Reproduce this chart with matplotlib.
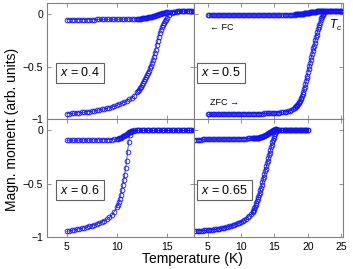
import matplotlib
matplotlib.use('Agg')
import matplotlib.pyplot as plt

plt.rcParams['font.family'] = ['Liberation Sans', 'DejaVu Sans']
plt.rcParams['mathtext.fontset'] = 'custom'
plt.rcParams['mathtext.rm'] = 'Liberation Sans'
plt.rcParams['mathtext.it'] = 'Liberation Sans:italic'

# x = 0.4 (top left)
T04 = [5.0, 5.25, 5.5, 5.75, 6.0, 6.25, 6.5, 6.75, 7.0, 7.25, 7.5, 7.75, 8.0, 8.25,
       8.5, 8.75, 9.0, 9.25, 9.5, 9.75, 10.0, 10.25, 10.5, 10.75, 11.0, 11.25, 11.5, 11.75,
       12.0, 12.1, 12.2, 12.3, 12.4, 12.5, 12.6, 12.7, 12.8, 12.9, 13.0, 13.1, 13.2, 13.3,
       13.4, 13.5, 13.6, 13.7, 13.8, 13.9, 14.0, 14.1, 14.2, 14.3, 14.4, 14.5, 14.6, 14.7,
       14.8, 14.9, 15.0,
       15.25, 15.5, 15.75, 16.0, 16.25, 16.5, 16.75, 17.0, 17.25, 17.5, 17.75]
zfc04 = [-0.947, -0.945, -0.944, -0.942, -0.940, -0.938, -0.935, -0.933, -0.930, -0.927,
         -0.923, -0.920, -0.916, -0.912, -0.907, -0.902, -0.896, -0.890, -0.883, -0.876,
         -0.868, -0.859, -0.849, -0.838, -0.825, -0.811, -0.795, -0.775,
         -0.745, -0.733, -0.720, -0.705, -0.690, -0.673, -0.656, -0.638, -0.620, -0.600,
         -0.580, -0.560, -0.540, -0.515, -0.490, -0.465, -0.440, -0.410, -0.375, -0.340,
         -0.300, -0.260, -0.220, -0.180, -0.150, -0.125, -0.105, -0.088, -0.070, -0.055,
         -0.040,
         -0.008, 0.010, 0.018, 0.022, 0.024, 0.025, 0.026, 0.027, 0.027, 0.028, 0.028]
fc04 = [-0.055, -0.055, -0.055, -0.055, -0.055, -0.055, -0.054, -0.054, -0.054, -0.054,
        -0.054, -0.054, -0.053, -0.053, -0.053, -0.053, -0.053, -0.052, -0.052, -0.052,
        -0.051, -0.051, -0.051, -0.050, -0.050, -0.049, -0.049, -0.048,
        -0.048, -0.047, -0.047, -0.046, -0.045, -0.044, -0.043, -0.042, -0.040, -0.038,
        -0.036, -0.034, -0.032, -0.030, -0.028, -0.026, -0.023, -0.020, -0.017, -0.014,
        -0.011, -0.008, -0.005, -0.002, 0.001, 0.004, 0.007, 0.009, 0.011, 0.013,
        0.015,
        0.018, 0.020, 0.022, 0.023, 0.024, 0.025, 0.026, 0.027, 0.027, 0.028, 0.028]

# x = 0.6 (bottom left)
T06 = [5.0, 5.25, 5.5, 5.75, 6.0, 6.25, 6.5, 6.75, 7.0, 7.25, 7.5, 7.75, 8.0, 8.25,
       8.5, 8.75, 9.0, 9.25, 9.5, 9.75,
       10.0, 10.1, 10.2, 10.3, 10.4, 10.5, 10.6, 10.7, 10.8, 10.9, 11.0, 11.1, 11.2, 11.3,
       11.4, 11.5,
       11.75, 12.0, 12.25, 12.5, 12.75, 13.0, 13.25, 13.5, 13.75, 14.0, 14.25, 14.5, 14.75,
       15.0, 15.25, 15.5, 15.75, 16.0, 16.25, 16.5, 16.75, 17.0, 17.25, 17.5, 17.75]
zfc06 = [-0.945, -0.940, -0.935, -0.930, -0.925, -0.920, -0.915, -0.910, -0.904, -0.898,
         -0.891, -0.884, -0.876, -0.867, -0.857, -0.845, -0.831, -0.815, -0.795, -0.760,
         -0.720, -0.700, -0.675, -0.645, -0.605, -0.560, -0.515, -0.470, -0.420, -0.355,
         -0.290, -0.205, -0.115, -0.050, -0.022, -0.010,
         -0.005, -0.004, -0.003, -0.003, -0.003, -0.003, -0.003, -0.003, -0.003, -0.003,
         -0.003, -0.003, -0.003, -0.003, -0.003, -0.003, -0.003, -0.003, -0.003, -0.003,
         -0.003, -0.003, -0.003, -0.003, -0.003]
fc06 = [-0.095, -0.095, -0.095, -0.095, -0.095, -0.094, -0.094, -0.094, -0.094, -0.094,
        -0.093, -0.093, -0.093, -0.092, -0.092, -0.091, -0.091, -0.090, -0.089, -0.087,
        -0.084, -0.081, -0.078, -0.074, -0.070, -0.065, -0.060, -0.055, -0.049, -0.043,
        -0.037, -0.030, -0.023, -0.016, -0.010, -0.006,
        -0.003, -0.003, -0.003, -0.003, -0.003, -0.003, -0.003, -0.003, -0.003, -0.003,
        -0.003, -0.003, -0.003, -0.003, -0.003, -0.003, -0.003, -0.003, -0.003, -0.003,
        -0.003, -0.003, -0.003, -0.003, -0.003]

# x = 0.5 (top right)
T05 = [5.0, 5.25, 5.5, 5.75, 6.0, 6.25, 6.5, 6.75, 7.0, 7.25, 7.5, 7.75, 8.0, 8.25,
       8.5, 8.75, 9.0, 9.25, 9.5, 9.75, 10.0, 10.25, 10.5, 10.75, 11.0, 11.25, 11.5, 11.75,
       12.0, 12.25, 12.5, 12.75, 13.0, 13.25, 13.5, 13.75, 14.0, 14.25, 14.5, 14.75, 15.0,
       15.25, 15.5, 15.75, 16.0, 16.25, 16.5, 16.75, 17.0, 17.25, 17.5, 17.75,
       18.0, 18.1, 18.2, 18.3, 18.4, 18.5, 18.6, 18.7, 18.8, 18.9,
       19.0, 19.1, 19.2, 19.3, 19.4, 19.5, 19.6, 19.7, 19.8, 19.9,
       20.0, 20.1, 20.2, 20.3, 20.4, 20.5, 20.6, 20.7, 20.8, 20.9,
       21.0, 21.1, 21.2, 21.3, 21.4, 21.5, 21.6, 21.7, 21.8, 21.9,
       22.0, 22.1, 22.2, 22.3, 22.4, 22.5,
       22.75, 23.0, 23.25, 23.5, 23.75, 24.0, 24.25, 24.5, 24.75, 25.0, 25.2]
zfc05 = [-0.953, -0.953, -0.953, -0.953, -0.953, -0.952, -0.952, -0.952, -0.952, -0.952,
         -0.952, -0.951, -0.951, -0.951, -0.951, -0.951, -0.950, -0.950, -0.950, -0.950,
         -0.950, -0.949, -0.949, -0.949, -0.949, -0.948, -0.948, -0.948, -0.947, -0.947,
         -0.946, -0.946, -0.945, -0.945, -0.944, -0.944, -0.944, -0.943, -0.942, -0.941,
         -0.940, -0.939, -0.938, -0.936, -0.934, -0.932, -0.930, -0.927, -0.923, -0.918,
         -0.912, -0.902,
         -0.890, -0.884, -0.878, -0.872, -0.865, -0.857, -0.848, -0.837, -0.825, -0.811,
         -0.795, -0.777, -0.758, -0.738, -0.717, -0.695, -0.668, -0.641, -0.613, -0.585,
         -0.556, -0.527, -0.498, -0.469, -0.440, -0.411, -0.382, -0.355, -0.328, -0.301,
         -0.274, -0.248, -0.222, -0.197, -0.172, -0.148, -0.125, -0.103, -0.082, -0.062,
         -0.044, -0.028, -0.012, 0.002, 0.014, 0.022,
         0.026, 0.028, 0.029, 0.030, 0.030, 0.030, 0.030, 0.030, 0.030, 0.030, 0.030]
fc05 = [-0.012, -0.012, -0.012, -0.012, -0.012, -0.012, -0.012, -0.012, -0.012, -0.012,
        -0.012, -0.012, -0.012, -0.012, -0.012, -0.012, -0.012, -0.012, -0.012, -0.012,
        -0.012, -0.012, -0.012, -0.012, -0.012, -0.012, -0.012, -0.012, -0.012, -0.012,
        -0.012, -0.012, -0.012, -0.012, -0.012, -0.012, -0.012, -0.012, -0.012, -0.012,
        -0.012, -0.011, -0.011, -0.011, -0.010, -0.010, -0.010, -0.009, -0.009, -0.008,
        -0.008, -0.007,
        -0.007, -0.006, -0.006, -0.005, -0.005, -0.004, -0.004, -0.003, -0.002, -0.001,
        0.000, 0.001, 0.002, 0.003, 0.004, 0.005, 0.006, 0.007, 0.008, 0.009,
        0.010, 0.011, 0.012, 0.013, 0.014, 0.015, 0.016, 0.017, 0.018, 0.019,
        0.020, 0.021, 0.022, 0.023, 0.024, 0.025, 0.026, 0.026, 0.027, 0.027,
        0.028, 0.028, 0.029, 0.029, 0.029, 0.029,
        0.030, 0.030, 0.030, 0.030, 0.030, 0.030, 0.030, 0.030, 0.030, 0.030, 0.030]

# x = 0.65 (bottom right)
T065 = [3.0, 3.25, 3.5, 3.75, 4.0, 4.25, 4.5, 4.75, 5.0, 5.25, 5.5, 5.75, 6.0, 6.25,
        6.5, 6.75, 7.0, 7.25, 7.5, 7.75, 8.0, 8.25, 8.5, 8.75, 9.0, 9.25, 9.5, 9.75,
        10.0, 10.25, 10.5, 10.75, 11.0, 11.25, 11.5, 11.75,
        11.8, 11.9, 12.0, 12.1, 12.2, 12.3, 12.4, 12.5, 12.6, 12.7, 12.8, 12.9,
        13.0, 13.1, 13.2, 13.3, 13.4, 13.5, 13.6, 13.7, 13.8, 13.9,
        14.0, 14.1, 14.2, 14.3, 14.4, 14.5, 14.6, 14.7, 14.8, 14.9,
        15.0, 15.1, 15.2, 15.3, 15.4, 15.5,
        15.75, 16.0, 16.25, 16.5, 16.75, 17.0, 17.25, 17.5, 17.75, 18.0, 18.25, 18.5,
        18.75, 19.0, 19.25, 19.5, 19.75, 20.0]
zfc065 = [-0.942, -0.941, -0.940, -0.939, -0.938, -0.937, -0.936, -0.935, -0.933, -0.932,
          -0.930, -0.928, -0.926, -0.924, -0.922, -0.919, -0.916, -0.913, -0.910, -0.906,
          -0.902, -0.898, -0.893, -0.888, -0.883, -0.877, -0.870, -0.863, -0.855, -0.846,
          -0.836, -0.825, -0.812, -0.798, -0.782, -0.764,
          -0.758, -0.745, -0.730, -0.714, -0.698, -0.682, -0.665, -0.647, -0.628, -0.607,
          -0.585, -0.561, -0.536, -0.511, -0.486, -0.461, -0.436, -0.411, -0.386, -0.361,
          -0.336, -0.311, -0.286, -0.261, -0.236, -0.211, -0.186, -0.161, -0.137, -0.114,
          -0.092, -0.072, -0.053, -0.036, -0.020, -0.006, 0.002, 0.000,
          -0.002, -0.003, -0.003, -0.003, -0.003, -0.003, -0.003, -0.003, -0.003, -0.003,
          -0.003, -0.003, -0.003, -0.003, -0.003, -0.003, -0.003, -0.003]
fc065 = [-0.089, -0.089, -0.089, -0.089, -0.089, -0.088, -0.088, -0.088, -0.088, -0.088,
         -0.087, -0.087, -0.087, -0.087, -0.087, -0.086, -0.086, -0.086, -0.086, -0.085,
         -0.085, -0.085, -0.084, -0.084, -0.083, -0.083, -0.082, -0.082, -0.081, -0.080,
         -0.080, -0.079, -0.078, -0.078, -0.077, -0.076,
         -0.075, -0.075, -0.074, -0.074, -0.073, -0.072, -0.072, -0.071, -0.070, -0.070,
         -0.069, -0.068, -0.067, -0.066, -0.063, -0.060, -0.057, -0.054, -0.050, -0.047,
         -0.043, -0.039, -0.035, -0.031, -0.027, -0.023, -0.019, -0.015, -0.011, -0.007,
         -0.003, 0.001, 0.004, 0.006, 0.007, 0.005, 0.002, 0.000,
         -0.002, -0.003, -0.003, -0.003, -0.003, -0.003, -0.003, -0.003, -0.003, -0.003,
         -0.003, -0.003, -0.003, -0.003, -0.003, -0.003, -0.003, -0.003]

labels = ['0.4', '0.5', '0.6', '0.65']
ytick_vals = [-1, -0.5, 0]
ytick_text = ['\u22121', '\u22120.5', '0']

fig = plt.figure(figsize=(3.53, 2.69), dpi=100)
x_left, w_left = 0.1323, 0.4181
x_right, w_right = 0.5504, 0.4212
y_top, h_top = 0.5565, 0.4312
y_bot, h_bot = 0.1178, 0.4387

ax_tl = fig.add_axes([x_left, y_top, w_left, h_top])
ax_tr = fig.add_axes([x_right, y_top, w_right, h_top])
ax_bl = fig.add_axes([x_left, y_bot, w_left, h_bot])
ax_br = fig.add_axes([x_right, y_bot, w_right, h_bot])

panels = [
    (ax_tl, T04, zfc04, fc04, labels[0], (3, 17.78), [5, 10, 15], 0.09),
    (ax_tr, T05, zfc05, fc05, labels[1], (3, 25.25), [5, 10, 15, 20, 25], 0.045),
    (ax_bl, T06, zfc06, fc06, labels[2], (3, 17.78), [5, 10, 15], 0.09),
    (ax_br, T065, zfc065, fc065, labels[3], (3, 25.25), [5, 10, 15, 20, 25], 0.045),
]

blue = '#1010ff'
for ax, T, zfc, fc, lab, xl, xt, bx in panels:
    for m in (fc, zfc):
        ax.plot(T, m, '-', color=blue, lw=0.5, marker='o', ms=3.4, mfc='none',
                mec=blue, mew=0.6)
    ax.set_xlim(*xl)
    ax.set_ylim(-1, 0.1)
    ax.set_xticks(xt)
    ax.set_yticks(ytick_vals)
    ax.set_yticklabels(ytick_text)
    ax.tick_params(direction='in', length=3, width=0.6, color='#808080',
                   top=True, right=True, labelsize=7.5)
    ax.tick_params(axis='x', pad=3.5)
    ax.tick_params(axis='y', pad=2.5)
    for s in ax.spines.values():
        s.set_color('#808080')
        s.set_linewidth(0.8)
    ax.text(bx, 0.4, '$x$ = ' + lab, transform=ax.transAxes, fontsize=9,
            ha='left', va='center',
            bbox=dict(facecolor='white', edgecolor='#606060', lw=0.8,
                      boxstyle='square,pad=0.3'))

for ax in (ax_tl, ax_tr):
    ax.tick_params(labelbottom=False)
for ax in (ax_tr, ax_br):
    ax.tick_params(labelleft=False)

ax_tr.text(5.35, -0.126, '\u2190 FC', fontsize=6.5, ha='left', va='center')
ax_tr.text(5.35, -0.843, 'ZFC \u2192', fontsize=6.5, ha='left', va='center')
ax_tr.text(23.1, -0.11, '$T_c$', fontsize=8.5, ha='left', va='center')

fig.text(0.033, 0.517, 'Magn. moment (arb. units)', rotation=90,
         ha='center', va='center', fontsize=10)
fig.text(0.544, 0.036, 'Temperature (K)', ha='center', va='center', fontsize=10)

fig.savefig('out.png', dpi=100)
